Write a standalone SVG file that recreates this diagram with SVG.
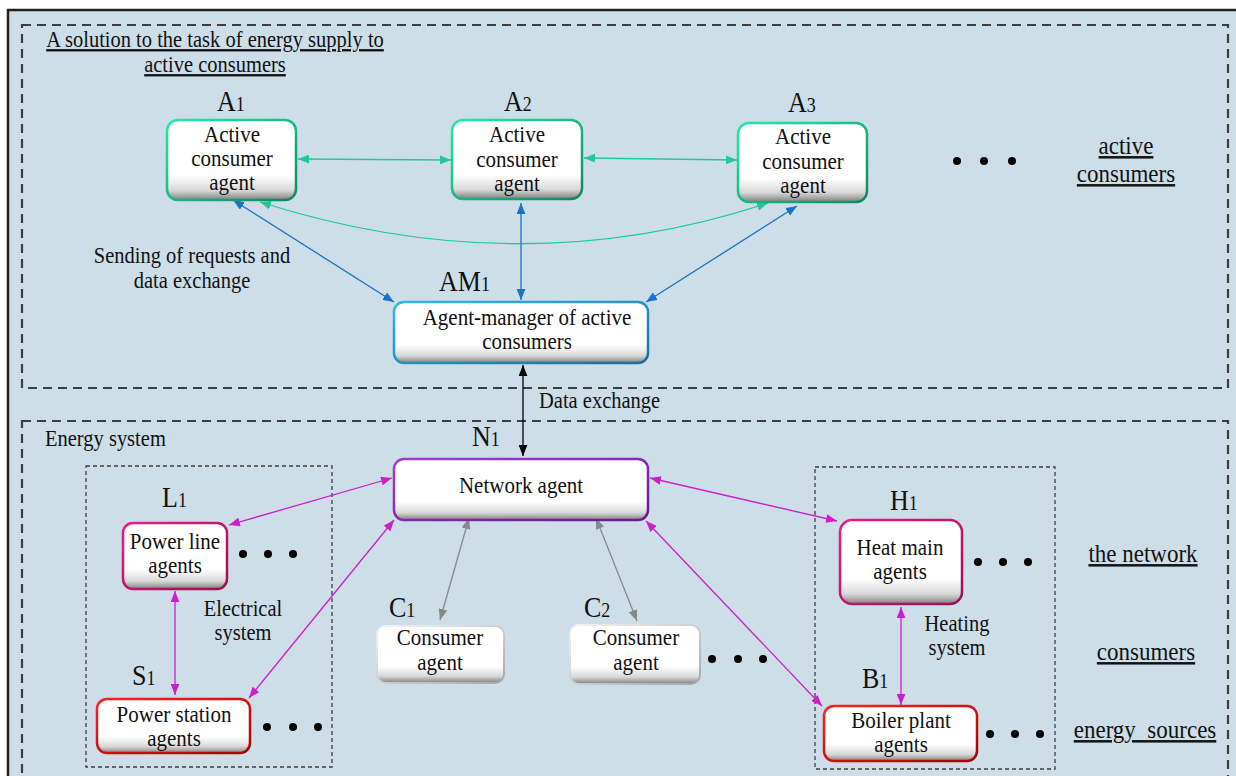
<svg xmlns="http://www.w3.org/2000/svg" width="1236" height="776" viewBox="0 0 1236 776">
<style>
text{font-family:"Liberation Serif","Times New Roman",serif;fill:#111}
.t{font-size:20.5px}
.m{text-anchor:middle}
.b{font-size:21px;text-anchor:middle}
.lab{font-size:26px}
.sub{font-size:18px}
.r{font-size:23px;text-anchor:middle;text-decoration:underline}
.dash{fill:none;stroke:#3d3d3d;stroke-width:2.2;stroke-dasharray:9 6}
.dash2{fill:none;stroke:#3d3d3d;stroke-width:1.3;stroke-dasharray:4 3}
.box{fill:url(#bf)}
.c{fill:none;stroke-width:1.3}
.dot{fill:#000}
</style>
<defs>
<linearGradient id="bf" x1="0" y1="0" x2="0" y2="1">
<stop offset="0" stop-color="#fff"/>
<stop offset="0.7" stop-color="#fff"/>
<stop offset="0.88" stop-color="#d8d8d8"/>
<stop offset="1" stop-color="#808080"/>
</linearGradient>
<linearGradient id="sg" x1="0" y1="0" x2="1" y2="1"><stop offset="0" stop-color="#22eaa8"/><stop offset="1" stop-color="#0e8a5c"/></linearGradient>
<linearGradient id="sb" x1="0" y1="0" x2="1" y2="1"><stop offset="0" stop-color="#33b5ea"/><stop offset="1" stop-color="#1b6e9c"/></linearGradient>
<linearGradient id="sp" x1="0" y1="0" x2="1" y2="1"><stop offset="0" stop-color="#a53ccc"/><stop offset="1" stop-color="#6e1590"/></linearGradient>
<linearGradient id="sc" x1="0" y1="0" x2="1" y2="1"><stop offset="0" stop-color="#ee1a85"/><stop offset="1" stop-color="#9a1050"/></linearGradient>
<linearGradient id="sr" x1="0" y1="0" x2="1" y2="1"><stop offset="0" stop-color="#ff2020"/><stop offset="1" stop-color="#a80000"/></linearGradient>
<linearGradient id="sw" x1="0" y1="0" x2="1" y2="1"><stop offset="0" stop-color="#f4f4f4"/><stop offset="1" stop-color="#a8a8a8"/></linearGradient>
<marker id="mg" viewBox="0 0 10 8" refX="10" refY="4" markerWidth="11" markerHeight="9" markerUnits="userSpaceOnUse" orient="auto-start-reverse"><path d="M0,0L10,4L0,8z" fill="#1fc99a"/></marker>
<marker id="mb" viewBox="0 0 10 8" refX="10" refY="4" markerWidth="11" markerHeight="9" markerUnits="userSpaceOnUse" orient="auto-start-reverse"><path d="M0,0L10,4L0,8z" fill="#1a72c6"/></marker>
<marker id="mk" viewBox="0 0 10 8" refX="10" refY="4" markerWidth="11" markerHeight="9" markerUnits="userSpaceOnUse" orient="auto-start-reverse"><path d="M0,0L10,4L0,8z" fill="#000"/></marker>
<marker id="mm" viewBox="0 0 10 8" refX="10" refY="4" markerWidth="11" markerHeight="9" markerUnits="userSpaceOnUse" orient="auto-start-reverse"><path d="M0,0L10,4L0,8z" fill="#cc1fcc"/></marker>
<marker id="mx" viewBox="0 0 10 8" refX="10" refY="4" markerWidth="11" markerHeight="9" markerUnits="userSpaceOnUse" orient="auto-start-reverse"><path d="M0,0L10,4L0,8z" fill="#888"/></marker>
</defs>
<rect x="0" y="0" width="1236" height="776" fill="#fff"/>
<rect x="8" y="10" width="1250" height="790" fill="#cddee8" stroke="#222" stroke-width="2.5"/>
<g id="frames">
<rect class="dash" x="22" y="25" width="1206" height="363"/>
<rect class="dash" x="22" y="421" width="1206" height="380"/>
<rect class="dash2" x="86" y="466" width="246" height="301"/>
<rect class="dash2" x="815" y="467" width="240" height="302"/>
</g>
<g id="texts">
<text class="t m" transform="translate(215,47) scale(1,1.12)" text-decoration="underline">A solution to the task of energy supply to</text>
<text class="t m" transform="translate(215,72) scale(1,1.12)" text-decoration="underline">active consumers</text>
<text class="t m" transform="translate(192,263) scale(1,1.12)">Sending of requests and</text>
<text class="t m" transform="translate(192,288) scale(1,1.12)">data exchange</text>
<text class="t" transform="translate(539,408) scale(1,1.12)">Data exchange</text>
<text class="t" transform="translate(45,446) scale(1,1.12)">Energy system</text>
<text class="t m" transform="translate(243,616) scale(1,1.12)">Electrical</text>
<text class="t m" transform="translate(243,640) scale(1,1.12)">system</text>
<text class="t m" transform="translate(957,631) scale(1,1.12)">Heating</text>
<text class="t m" transform="translate(957,655) scale(1,1.12)">system</text>
<text class="r" transform="translate(1126,154) scale(1,1.08)">active</text>
<text class="r" transform="translate(1126,182) scale(1,1.08)">consumers</text>
<text class="r" transform="translate(1143,562) scale(1,1.08)">the network</text>
<text class="r" transform="translate(1146,660) scale(1,1.08)">consumers</text>
<text class="r" transform="translate(1145,738) scale(1,1.08)" xml:space="preserve">energy  sources</text>
</g>
<g id="dots">
<circle class="dot" cx="957" cy="161" r="4"/><circle class="dot" cx="984" cy="161" r="4"/><circle class="dot" cx="1012" cy="161" r="4"/>
<circle class="dot" cx="243" cy="554" r="4"/><circle class="dot" cx="268" cy="554" r="4"/><circle class="dot" cx="293" cy="554" r="4"/>
<circle class="dot" cx="267" cy="727" r="4"/><circle class="dot" cx="293" cy="727" r="4"/><circle class="dot" cx="318" cy="727" r="4"/>
<circle class="dot" cx="712" cy="659" r="4"/><circle class="dot" cx="738" cy="659" r="4"/><circle class="dot" cx="763" cy="659" r="4"/>
<circle class="dot" cx="978" cy="562" r="4"/><circle class="dot" cx="1003" cy="562" r="4"/><circle class="dot" cx="1028" cy="562" r="4"/>
<circle class="dot" cx="990" cy="734" r="4"/><circle class="dot" cx="1015" cy="734" r="4"/><circle class="dot" cx="1040" cy="734" r="4"/>
</g>
<g id="connectors">
<line class="c" x1="298" y1="159" x2="451" y2="160" stroke="#1fc99a" marker-start="url(#mg)" marker-end="url(#mg)"/>
<line class="c" x1="584" y1="158" x2="737" y2="160" stroke="#1fc99a" marker-start="url(#mg)" marker-end="url(#mg)"/>
<path class="c" d="M260,202 Q520,285 768,203" stroke="#1fc99a" marker-start="url(#mg)" marker-end="url(#mg)"/>
<line class="c" x1="233" y1="200" x2="394" y2="302" stroke="#1a72c6" marker-start="url(#mb)" marker-end="url(#mb)"/>
<line class="c" x1="521" y1="203" x2="521" y2="300" stroke="#1a72c6" marker-start="url(#mb)" marker-end="url(#mb)"/>
<line class="c" x1="797" y1="206" x2="646" y2="302" stroke="#1a72c6" marker-start="url(#mb)" marker-end="url(#mb)"/>
<line class="c" x1="523" y1="365" x2="523" y2="456" stroke="#000" marker-start="url(#mk)" marker-end="url(#mk)"/>
<line class="c" x1="392" y1="478" x2="229" y2="525" stroke="#cc1fcc" marker-start="url(#mm)" marker-end="url(#mm)"/>
<line class="c" x1="394" y1="520" x2="249" y2="698" stroke="#cc1fcc" marker-start="url(#mm)" marker-end="url(#mm)"/>
<line class="c" x1="175" y1="591" x2="175" y2="695" stroke="#cc1fcc" marker-start="url(#mm)" marker-end="url(#mm)"/>
<line class="c" x1="469" y1="518" x2="440" y2="620" stroke="#888" marker-start="url(#mx)" marker-end="url(#mx)"/>
<line class="c" x1="596" y1="518" x2="637" y2="621" stroke="#888" marker-start="url(#mx)" marker-end="url(#mx)"/>
<line class="c" x1="650" y1="478" x2="837" y2="521" stroke="#cc1fcc" marker-start="url(#mm)" marker-end="url(#mm)"/>
<line class="c" x1="646" y1="521" x2="822" y2="706" stroke="#cc1fcc" marker-start="url(#mm)" marker-end="url(#mm)"/>
<line class="c" x1="901" y1="607" x2="901" y2="705" stroke="#cc1fcc" marker-start="url(#mm)" marker-end="url(#mm)"/>
</g>
<g id="A1">
<text class="lab" transform="translate(217,111) scale(1,1.12)">A<tspan class="sub">1</tspan></text>
<rect class="box" x="167" y="120" width="129" height="80" rx="11" stroke="url(#sg)" stroke-width="2.5"/>
<text class="b" transform="translate(232,142) scale(1,1.12)">Active</text><text class="b" transform="translate(232,166) scale(1,1.12)">consumer</text><text class="b" transform="translate(232,190) scale(1,1.12)">agent</text>
</g>
<g id="A2">
<text class="lab" transform="translate(504,111) scale(1,1.12)">A<tspan class="sub">2</tspan></text>
<rect class="box" x="452" y="120" width="130" height="79" rx="11" stroke="url(#sg)" stroke-width="2.5"/>
<text class="b" transform="translate(517,142) scale(1,1.12)">Active</text><text class="b" transform="translate(517,167) scale(1,1.12)">consumer</text><text class="b" transform="translate(517,191) scale(1,1.12)">agent</text>
</g>
<g id="A3">
<text class="lab" transform="translate(788,112) scale(1,1.12)">A<tspan class="sub">3</tspan></text>
<rect class="box" x="738" y="123" width="129" height="79" rx="11" stroke="url(#sg)" stroke-width="2.5"/>
<text class="b" transform="translate(803,144) scale(1,1.12)">Active</text><text class="b" transform="translate(803,169) scale(1,1.12)">consumer</text><text class="b" transform="translate(803,193) scale(1,1.12)">agent</text>
</g>
<g id="AM1">
<text class="lab" transform="translate(439,291) scale(1,1.12)">AM<tspan class="sub">1</tspan></text>
<rect class="box" x="394" y="302" width="254" height="61" rx="10" stroke="url(#sb)" stroke-width="2.5"/>
<text class="b" transform="translate(527,325) scale(1,1.12)">Agent-manager of active</text><text class="b" transform="translate(527,349) scale(1,1.12)">consumers</text>
</g>
<g id="N1">
<text class="lab" transform="translate(472,446) scale(1,1.12)">N<tspan class="sub">1</tspan></text>
<rect class="box" x="394" y="459" width="254" height="61" rx="10" stroke="url(#sp)" stroke-width="2.5"/>
<text class="b" transform="translate(521,493) scale(1,1.12)">Network agent</text>
</g>
<g id="L1">
<text class="lab" transform="translate(162,507) scale(1,1.12)">L<tspan class="sub">1</tspan></text>
<rect class="box" x="123" y="523" width="104" height="66" rx="10" stroke="url(#sc)" stroke-width="2.5"/>
<text class="b" transform="translate(175,549) scale(1,1.12)">Power line</text><text class="b" transform="translate(175,573) scale(1,1.12)">agents</text>
</g>
<g id="S1">
<text class="lab" transform="translate(132,685) scale(1,1.12)">S<tspan class="sub">1</tspan></text>
<rect class="box" x="97" y="699" width="153" height="54" rx="10" stroke="url(#sr)" stroke-width="2.5"/>
<text class="b" transform="translate(174,722) scale(1,1.12)">Power station</text><text class="b" transform="translate(174,746) scale(1,1.12)">agents</text>
</g>
<g id="C1">
<text class="lab" transform="translate(389,617) scale(1,1.12)">C<tspan class="sub">1</tspan></text>
<rect class="box" x="377" y="626" width="127" height="57" rx="9" stroke="url(#sw)" stroke-width="2"/>
<text class="b" transform="translate(440,645) scale(1,1.12)">Consumer</text><text class="b" transform="translate(440,670) scale(1,1.12)">agent</text>
</g>
<g id="C2">
<text class="lab" transform="translate(584,617) scale(1,1.12)">C<tspan class="sub">2</tspan></text>
<rect class="box" x="570" y="625" width="130" height="59" rx="9" stroke="url(#sw)" stroke-width="2"/>
<text class="b" transform="translate(636,645) scale(1,1.12)">Consumer</text><text class="b" transform="translate(636,670) scale(1,1.12)">agent</text>
</g>
<g id="H1">
<text class="lab" transform="translate(890,510) scale(1,1.12)">H<tspan class="sub">1</tspan></text>
<rect class="box" x="840" y="520" width="122" height="84" rx="12" stroke="url(#sc)" stroke-width="2.5"/>
<text class="b" transform="translate(900,555) scale(1,1.12)">Heat main</text><text class="b" transform="translate(900,579) scale(1,1.12)">agents</text>
</g>
<g id="B1">
<text class="lab" transform="translate(862,688) scale(1,1.12)">B<tspan class="sub">1</tspan></text>
<rect class="box" x="824" y="706" width="153" height="55" rx="10" stroke="url(#sr)" stroke-width="2.5"/>
<text class="b" transform="translate(901,728) scale(1,1.12)">Boiler plant</text><text class="b" transform="translate(901,752) scale(1,1.12)">agents</text>
</g>
</svg>
